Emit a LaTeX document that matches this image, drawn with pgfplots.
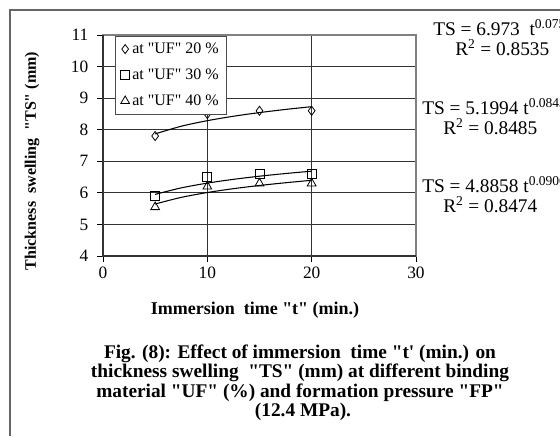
\documentclass[border=0pt]{standalone}
\usepackage{fontspec}
\setmainfont{Liberation Serif}[Ligatures=TeXOff]
\usepackage{pgfplots}
\pgfplotsset{compat=1.18}

\begin{document}
\begin{tikzpicture}
% page = 560 x 436 px, 1 px = 0.75pt, y downward in the scopes below
\useasboundingbox (0,0) rectangle (420pt,-327pt);
\clip (0,0) rectangle (420pt,-327pt);
\begin{scope}[x=0.75pt,y=-0.75pt]
\draw[gray!80!black, line width=1.1pt] (10,436) -- (10,10) -- (560,10);
\end{scope}

\begin{axis}[
  at={(77.25pt,-192pt)}, anchor=south west,
  scale only axis,
  width=234.75pt, height=165.75pt,
  xmin=0, xmax=30, ymin=4, ymax=11,
  xtick={0,10,20,30}, ytick={4,5,...,11},
  xtick pos=left, ytick pos=left,
  tick align=outside, major tick length=4.5pt,
  tick style={black, line width=0.6pt},
  grid=major,
  grid style={black!80, line width=0.6pt},
  axis line style={gray, line width=0.8pt},
  ticklabel style={font={\fontsize{13}{15}\selectfont}},
  yticklabel style={xshift=-3pt},
  /pgf/number format/assume math mode=true,
  legend style={at={(0.038,0.997)}, anchor=north west, draw=black!70,
    line width=0.6pt, fill=white, font={\fontsize{12}{14}\selectfont},
    row sep=6pt, inner xsep=4pt, inner ysep=3pt},
  legend cell align=left,
  legend image code/.code={\draw[#1] plot coordinates {(0.17cm,0cm)};},
  mark options={solid, fill=white, line width=0.6pt},
]
\addplot[only marks, mark=diamond, mark size=3.4pt, black]
  coordinates {(5,7.8)(10,8.5)(15,8.6)(20,8.6)};
\addlegendentry{at "UF" 20 \%}
\addplot[only marks, mark=square, mark size=3.4pt, black]
  coordinates {(5,5.9)(10,6.5)(15,6.6)(20,6.6)};
\addlegendentry{at "UF" 30 \%}
\addplot[only marks, mark=triangle, mark size=3.8pt, black]
  coordinates {(5,5.55)(10,6.2)(15,6.3)(20,6.3)};
\addlegendentry{at "UF" 40 \%}
% power trendlines
\addplot[black, line width=0.8pt, smooth, forget plot]
  coordinates {(5,7.868)(7.5,8.111)(10,8.287)(12.5,8.427)(15,8.543)(17.5,8.643)(20,8.730)};
\addplot[black, line width=0.8pt, smooth, forget plot]
  coordinates {(5,5.952)(7.5,6.158)(10,6.309)(12.5,6.428)(15,6.528)(17.5,6.613)(20,6.687)};
\addplot[black, line width=0.8pt, smooth, forget plot]
  coordinates {(5,5.647)(7.5,5.857)(10,6.011)(12.5,6.133)(15,6.234)(17.5,6.321)(20,6.398)};
\end{axis}

\begin{scope}[x=0.75pt,y=-0.75pt]
\draw[black!80, line width=0.8pt] (103,35) -- (103,256) -- (416,256);

\node[rotate=90, font={\fontsize{12}{14}\selectfont\bfseries}] at (32,161)
  {Thickness\ \ swelling\ \ "TS" (mm)};
\node[anchor=base, inner sep=0pt, font={\fontsize{13.5}{15}\selectfont\bfseries}] at (255,314)
  {Immersion\ \ time "t" (min.)};

\begin{scope}[every node/.style={anchor=base west, inner sep=0pt, font={\fontsize{14.5}{17}\selectfont}}]
\node at (433,35) {TS = 6.973\ \ t\textsuperscript{0.0753}};
\node at (455,55) {R\textsuperscript{2} = 0.8535};
\node at (422,114) {TS = 5.1994 t\textsuperscript{0.0843}};
\node at (443,134) {R\textsuperscript{2} = 0.8485};
\node at (422,192) {TS = 4.8858 t\textsuperscript{0.0906}};
\node at (443,212) {R\textsuperscript{2} = 0.8474};
\end{scope}

% caption, one node per line
\begin{scope}[every node/.style={anchor=base, inner sep=0pt, font={\fontsize{14.5}{16}\selectfont\bfseries}}]
\node at (300,358) {Fig. (8): Effect of immersion\ \ time "t' (min.) on};
\node at (300,377) {thickness swelling\ \ "TS" (mm) at different binding};
\node at (300,397) {material "UF" (\%) and formation pressure "FP"};
\node at (303,416) {(12.4 MPa).};
\end{scope}
\end{scope}
\end{tikzpicture}
\end{document}
